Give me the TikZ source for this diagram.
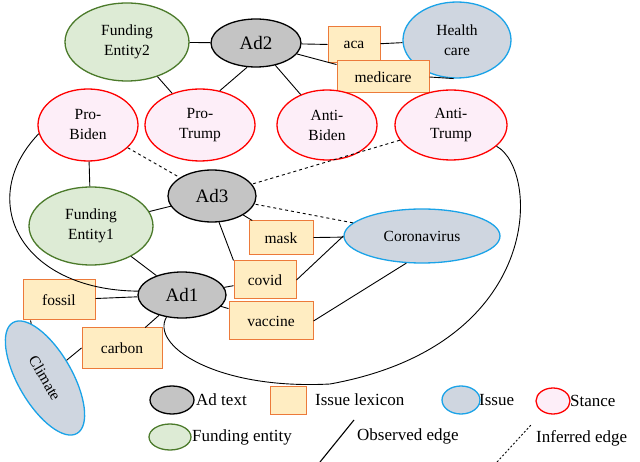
\documentclass[tikz,border=0pt]{standalone}
\usepackage{fontspec}
\setmainfont{Liberation Serif}
\usetikzlibrary{shapes.geometric}
\definecolor{fundfill}{HTML}{DDEBD5}
\definecolor{funddraw}{HTML}{4B7A2A}
\definecolor{adfill}{HTML}{C4C4C4}
\definecolor{issfill}{HTML}{CFD6E0}
\definecolor{issdraw}{HTML}{1AA3E8}
\definecolor{stfill}{HTML}{FDEEF8}
\definecolor{lexfill}{HTML}{FFEDC2}
\definecolor{lexdraw}{HTML}{EC7A3A}
\tikzset{
  fund/.style={ellipse,draw=funddraw,fill=fundfill,line width=1.3pt,inner sep=0pt,align=center},
  ad/.style={ellipse,draw=black,fill=adfill,line width=1.3pt,inner sep=0pt,font=\fontsize{19}{22}\selectfont},
  iss/.style={ellipse,draw=issdraw,fill=issfill,line width=1.3pt,inner sep=0pt,align=center},
  st/.style={ellipse,draw=red,fill=stfill,line width=1.3pt,inner sep=0pt,align=center},
  lex/.style={rectangle,draw=lexdraw,fill=lexfill,line width=1pt,inner sep=0pt},
  lbl/.style={anchor=west,inner sep=1pt,font=\fontsize{17}{20}\selectfont},
  obs/.style={black,line width=.9pt},
  inf/.style={black,dashed,line width=.9pt},
}
\begin{document}
\begin{tikzpicture}[x=1pt,y=-1pt,font=\fontsize{15.5}{20}\selectfont]
   \useasboundingbox (0,0) rectangle (640,462);
   %nodes
   \node[fund,minimum width=124,minimum height=78] (fe2) at (127,42) {Funding\\Entity2};
   \node[ad,minimum width=90,minimum height=48] (ad2) at (256,43) {Ad2};
   \node[lex,minimum width=52,minimum height=36] (aca) at (354,45) {aca};
   \node[iss,minimum width=108,minimum height=76] (hc) at (457,40) {Health\\care};
   \node[lex,minimum width=92,minimum height=32] (medicare) at (383,77) {medicare};
   \node[st,minimum width=100,minimum height=72] (pb) at (88,125) {Pro-\\Biden};
   \node[st,minimum width=110,minimum height=72] (pt) at (200,125) {Pro-\\Trump};
   \node[st,minimum width=100,minimum height=70] (ab) at (327,125) {Anti-\\Biden};
   \node[st,minimum width=112,minimum height=70] (at) at (451,125) {Anti-\\Trump};
   \node[ad,minimum width=88,minimum height=52] (ad3) at (212,196) {Ad3};
   \node[fund,minimum width=124,minimum height=78] (fe1) at (91,226) {Funding\\Entity1};
   \node[lex,minimum width=64,minimum height=34] (mask) at (281,238) {mask};
   \node[iss,minimum width=156,minimum height=54] (corona) at (422,236) {Coronavirus};
   \node[lex,minimum width=62,minimum height=38] (covid) at (265,280) {covid};
   \node[ad,minimum width=88,minimum height=46] (ad1) at (182,295) {Ad1};
   \node[lex,minimum width=72,minimum height=40] (fossil) at (59,300) {fossil};
   \node[lex,minimum width=84,minimum height=38] (vaccine) at (271,321) {vaccine};
   \node[lex,minimum width=80,minimum height=40] (carbon) at (122,348) {carbon};
   \node[iss,minimum width=128,minimum height=54,rotate=-60] (climate) at (45,378) {Climate};
   %edges
   \draw[obs] (fe2) -- (ad2);
   \draw[obs] (fe2) -- (pt);
   \draw[obs] (ad2.250) -- (pt.60);
   \draw[obs] (ad2) -- (ab);
   \draw[obs] (ad2) -- (aca);
   \draw[obs] (aca) -- (hc);
   \draw[obs] (ad2) -- (medicare);
   \draw[obs] (medicare.east) -- (hc.265);
   \draw[obs] (pb) -- (fe1);
   \draw[obs] (fe1) -- (ad3);
   \draw[obs] (fe1) -- (ad1);
   \draw[obs] (ad3) -- (mask);
   \draw[obs] (ad3.285) -- (covid.north west);
   \draw[obs] (mask) -- (corona);
   \draw[obs] (covid.east) -- (corona.180);
   \draw[obs] (vaccine.east) -- (corona.240);
   \draw[obs] (ad1) -- (covid);
   \draw[obs] (ad1) -- (vaccine);
   \draw[obs] (ad1) -- (fossil);
   \draw[obs] (ad1) -- (carbon);
   \draw[obs] (fossil.south west) ++(8,0) -- (climate);
   \draw[obs] (carbon.west) -- (climate);
   \draw[obs] (pb.190) .. controls (-25,200) and (20,290) .. (ad1.175);
   \coordinate (loop) at (330,384);
   \draw[obs] (at.-25) .. controls (540,170) and (545,345) .. (loop)
      .. controls (215,390) and (150,345) .. (ad1.235);
   \draw[inf] (pb) -- (ad3);
   \draw[inf] (at) -- (ad3);
   \draw[inf] (corona) -- (ad3);
   %legend
   \node[ad,minimum width=44,minimum height=28] (lad) at (172,400) {};
   \node[lbl] (lada) at (195,400) {Ad text};
   \node[lex,minimum width=36,minimum height=28] (llex) at (288,400) {};
   \node[lbl] (llexa) at (314,400) {Issue lexicon};
   \node[iss,minimum width=38,minimum height=28] (liss) at (461,400) {};
   \node[lbl] (lissa) at (478,400) {Issue};
   \node[st,minimum width=34,minimum height=26] (lst) at (553,401) {};
   \node[lbl] (lsta) at (569,401) {Stance};
   \node[fund,minimum width=42,minimum height=26] (lfund) at (170,437) {};
   \node[lbl] (lfunda) at (191,437) {Funding entity};
   \coordinate (ob1) at (320,462);
   \coordinate (ob2) at (354,420);
   \draw[obs,line width=1.1pt] (ob1) -- (ob2);
   \node[lbl] (lobs) at (356,436) {Observed edge};
   \coordinate (in1) at (497,462);
   \coordinate (in2) at (531,425);
   \draw[inf,dash pattern=on 2pt off 2pt] (in1) -- (in2);
   \node[lbl] (linf) at (535,438) {Inferred edge};
\end{tikzpicture}
\end{document}
